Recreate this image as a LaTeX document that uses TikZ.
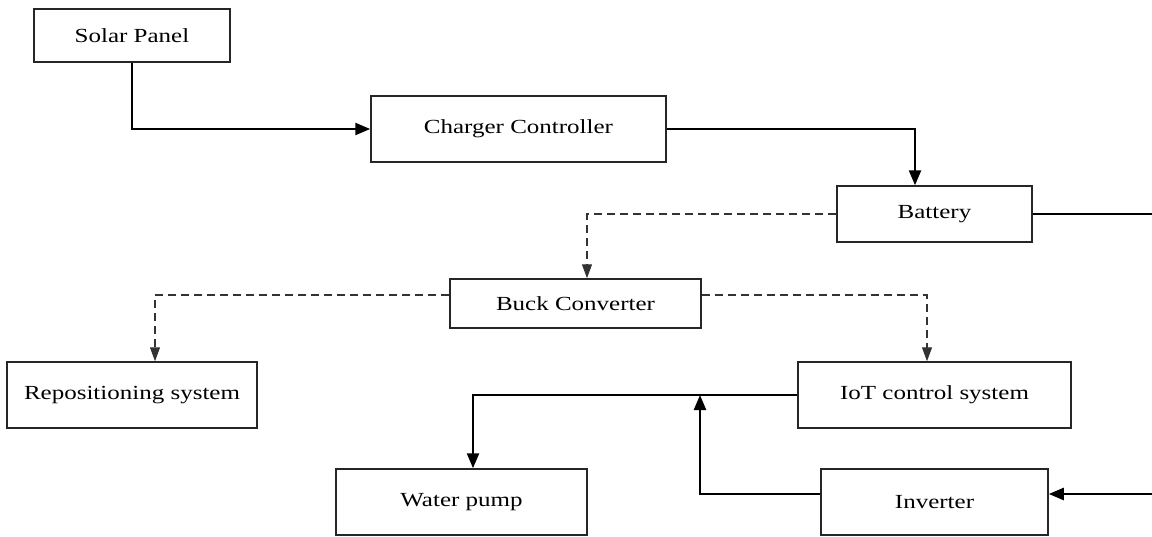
\documentclass[tikz,border=0pt]{standalone}
\usepackage{fontspec}
\setmainfont{Liberation Serif}[FakeStretch=1.25]
\usetikzlibrary{arrows.meta}
\begin{document}
\begin{tikzpicture}[x=1pt,y=-1pt,
  blk/.style={draw=black!85, line width=1.5pt, rectangle, inner sep=0pt, font=\fontsize{20}{23}\selectfont},
  pw/.style={line width=2.4pt, -{Triangle[length=15pt,width=12pt]}},
  ctl/.style={line width=1.2pt, dash pattern=on 8pt off 5pt, draw=black!80, -{Triangle[length=14pt,width=10pt]}},
  plain/.style={line width=2.4pt}]
\useasboundingbox (0,0) rectangle (1152,536);
\node[blk, minimum width=196pt, minimum height=53pt] (solar) at (132,35.5) {Solar Panel};
\node[blk, minimum width=295pt, minimum height=66pt] (charger) at (518.5,129) {Charger Controller};
\node[blk, minimum width=195pt, minimum height=56pt] (battery) at (934.5,214) {Battery};
\node[blk, minimum width=251pt, minimum height=49pt] (buck) at (575.5,303.5) {Buck Converter};
\node[blk, minimum width=250pt, minimum height=66pt] (repos) at (132,395) {Repositioning system};
\node[blk, minimum width=273pt, minimum height=66pt] (iot) at (934.5,395) {IoT control system};
\node[blk, minimum width=251pt, minimum height=66pt] (pump) at (461.5,502) {Water pump};
\node[blk, minimum width=227pt, minimum height=66pt] (inv) at (934.5,502) {Inverter};
\coordinate (e1) at (1152,214);
\coordinate (e2) at (1152,494);
\coordinate (j) at (700,395);
% power connectors
\draw[pw] (solar.south) |- (charger.west);
\draw[pw] (charger.east) -| ([xshift=-19.5pt]battery.north);
\draw[plain] (battery.east) -- (e1);
\draw[pw] (e2) -- ([yshift=8pt]inv.east);
\draw[pw] (iot.west) -| ([xshift=11.5pt]pump.north);
\draw[pw] ([yshift=8pt]inv.west) -| (j);
% control (dashed) connectors
\draw[ctl] (battery.west) -| ([xshift=11.5pt]buck.north);
\draw[ctl] ([yshift=8.5pt]buck.west) -| ([xshift=23pt]repos.north);
\draw[ctl] ([yshift=8.5pt]buck.east) -| ([xshift=-7.5pt]iot.north);
\end{tikzpicture}
\end{document}
